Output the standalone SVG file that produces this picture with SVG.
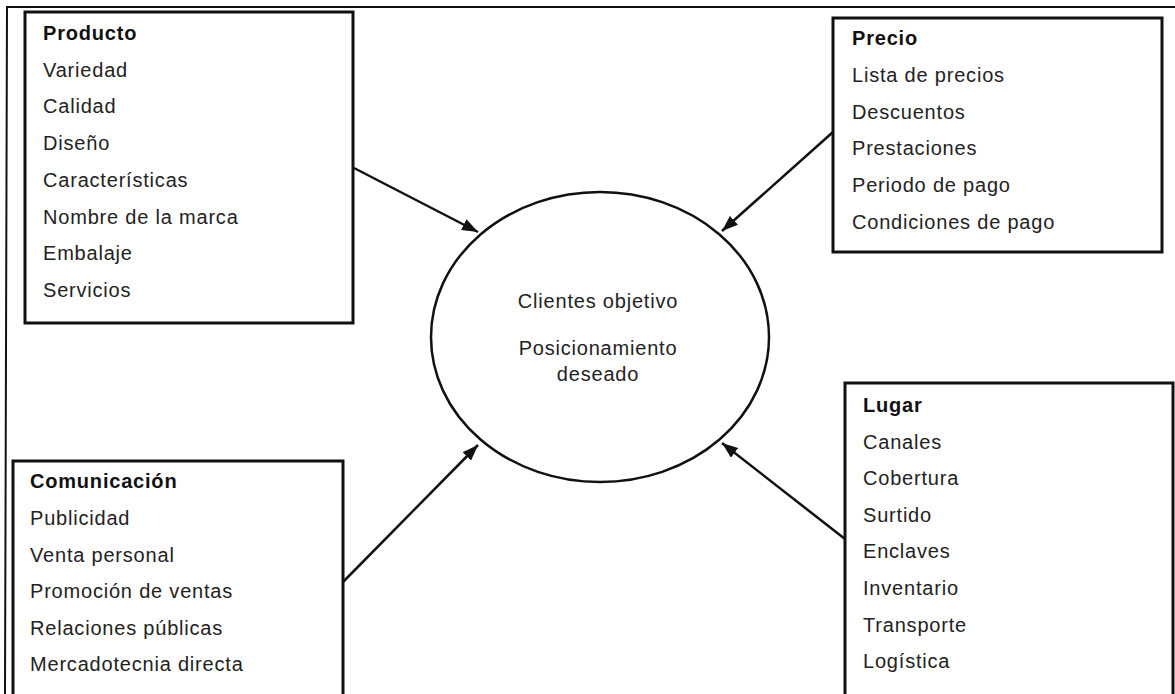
<svg xmlns="http://www.w3.org/2000/svg" width="1175" height="694" viewBox="0 0 1175 694">
  <style>
    .frame { fill: none; stroke: #111; stroke-width: 2; }
    .box { fill: #fff; stroke: #111; stroke-width: 3; }
    .hub { fill: #fff; stroke: #111; stroke-width: 2.5; }
    .link { fill: none; stroke: #111; stroke-width: 2.5; }
    text { font-family: "Liberation Sans", Arial, sans-serif; font-size: 20px; fill: #222; letter-spacing: 0.8px; }
    .head { font-weight: bold; fill: #111; }
    .mid { text-anchor: middle; }
  </style>
  <defs>
    <marker id="arrow" markerUnits="userSpaceOnUse" markerWidth="16" markerHeight="12" viewBox="0 0 16 12" refX="16" refY="6" orient="auto">
      <path d="M0,0 L16,6 L0,12 Z" fill="#111"/>
    </marker>
  </defs>

  <rect width="1175" height="694" fill="#fff"/>
  <!-- page border -->
  <polyline class="frame" points="1175,7 7,7 5,694"/>

  <g id="hub">
    <ellipse class="hub" cx="600" cy="337" rx="169" ry="145"/>
    <text class="mid" x="598" y="308">Clientes objetivo</text>
    <text class="mid" x="598" y="355">Posicionamiento</text>
    <text class="mid" x="598" y="381">deseado</text>
  </g>

  <g id="connectors">
    <line class="link" x1="354" y1="168" x2="478" y2="232" marker-end="url(#arrow)"/>
    <line class="link" x1="833" y1="132" x2="722" y2="231" marker-end="url(#arrow)"/>
    <line class="link" x1="343" y1="582" x2="478" y2="445" marker-end="url(#arrow)"/>
    <line class="link" x1="845" y1="539" x2="722" y2="443" marker-end="url(#arrow)"/>
  </g>

  <g id="producto">
    <rect class="box" x="25" y="12" width="328" height="311"/>
    <text class="head" x="43" y="39.5">Producto</text>
    <text x="43" y="76.5">Variedad</text>
    <text x="43" y="113.3">Calidad</text>
    <text x="43" y="150">Diseño</text>
    <text x="43" y="186.8">Características</text>
    <text x="43" y="223.5">Nombre de la marca</text>
    <text x="43" y="260.3">Embalaje</text>
    <text x="43" y="297">Servicios</text>
  </g>

  <g id="precio">
    <rect class="box" x="833" y="18" width="329" height="234"/>
    <text class="head" x="852" y="45">Precio</text>
    <text x="852" y="82">Lista de precios</text>
    <text x="852" y="118.5">Descuentos</text>
    <text x="852" y="155">Prestaciones</text>
    <text x="852" y="192">Periodo de pago</text>
    <text x="852" y="228.5">Condiciones de pago</text>
  </g>

  <g id="comunicacion">
    <rect class="box" x="13" y="461" width="330" height="260"/>
    <text class="head" x="30" y="488">Comunicación</text>
    <text x="30" y="525">Publicidad</text>
    <text x="30" y="561.5">Venta personal</text>
    <text x="30" y="598">Promoción de ventas</text>
    <text x="30" y="634.5">Relaciones públicas</text>
    <text x="30" y="671">Mercadotecnia directa</text>
  </g>

  <g id="lugar">
    <rect class="box" x="845" y="383" width="328" height="330"/>
    <text class="head" x="863" y="412">Lugar</text>
    <text x="863" y="448.5">Canales</text>
    <text x="863" y="485">Cobertura</text>
    <text x="863" y="521.5">Surtido</text>
    <text x="863" y="558">Enclaves</text>
    <text x="863" y="595">Inventario</text>
    <text x="863" y="631.5">Transporte</text>
    <text x="863" y="668">Logística</text>
  </g>
</svg>
